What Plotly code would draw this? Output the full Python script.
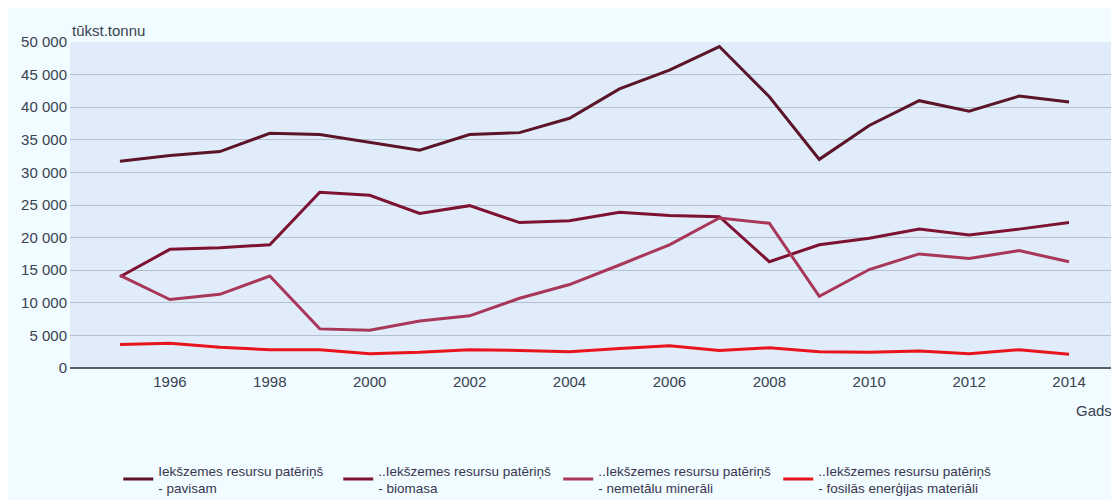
import plotly.graph_objects as go

years = list(range(1995, 2015))
pavisam = [31700, 32600, 33200, 36000, 35800, 34600, 33400, 35800, 36100, 38300,
           42800, 45700, 49300, 41600, 32000, 37200, 41000, 39400, 41700, 40800]
biomasa = [14000, 18200, 18450, 18900, 26950, 26500, 23700, 24900, 22300, 22600,
           23900, 23400, 23200, 16300, 18900, 19900, 21300, 20400, 21300, 22300]
nemetalu = [14200, 10500, 11300, 14100, 6000, 5800, 7200, 8000, 10700, 12800,
            15800, 18900, 23000, 22200, 11000, 15100, 17500, 16800, 18000, 16300]
fosilas = [3600, 3800, 3200, 2800, 2800, 2200, 2400, 2800, 2700, 2500,
           3000, 3400, 2700, 3100, 2500, 2400, 2600, 2200, 2800, 2100]
x_ticks = list(range(1996, 2015, 2))

names = [
    "Iekšzemes resursu patēriņš<br>- pavisam",
    "..Iekšzemes resursu patēriņš<br>- biomasa",
    "..Iekšzemes resursu patēriņš<br>- nemetālu minerāli",
    "..Iekšzemes resursu patēriņš<br>- fosilās enerģijas materiāli",
]
series = [pavisam, biomasa, nemetalu, fosilas]
colors = ["#5c1428", "#7d1233", "#a8375a", "#e8141c"]

fig = go.Figure()
for name, vals, col in zip(names, series, colors):
    fig.add_trace(go.Scatter(x=years, y=vals, name=name, mode="lines",
                             line=dict(color=col, width=3)))

font_family = "Liberation Sans, Arial, sans-serif"
txt_col = "#3a4150"

fig.update_layout(
    width=1111, height=492,
    margin=dict(l=62, r=0, t=34, b=132, autoexpand=False),
    paper_bgcolor="#f0fcff",
    plot_bgcolor="#e0ecfa",
    separators=", ",
    font=dict(family=font_family, size=15, color=txt_col),
    showlegend=True,
    legend=dict(orientation="h", x=0.046, xanchor="left", y=-0.342, yanchor="middle",
                entrywidth=175, entrywidthmode="pixels", tracegroupgap=0,
                font=dict(size=13.5, color="#3a3550"), bgcolor="rgba(0,0,0,0)",
                traceorder="normal"),
    xaxis=dict(range=[1994, 2015], tickmode="array", tickvals=x_ticks,
               ticktext=[str(v) for v in x_ticks],
               showgrid=False, zeroline=False, showline=False,
               ticks="", ticklabelstandoff=3, tickfont=dict(size=15, color=txt_col)),
    yaxis=dict(range=[0, 50000], tickmode="linear", tick0=0, dtick=5000,
               tickformat=",d", showgrid=True, gridcolor="#b4c0d0", gridwidth=1,
               zeroline=True, zerolinecolor="#5a5f66", zerolinewidth=2,
               showline=False, ticks="", ticklabelstandoff=2,
               tickfont=dict(size=15, color=txt_col)),
    annotations=[
        dict(text="tūkst.tonnu", xref="paper", yref="paper", x=0.0, y=1.0,
             xanchor="left", yanchor="bottom", showarrow=False, xshift=0, yshift=1,
             font=dict(size=15, color=txt_col)),
        dict(text="Gads", xref="paper", yref="paper", x=1.0, y=0.0,
             xanchor="right", yanchor="top", showarrow=False, xshift=-5, yshift=-32,
             font=dict(size=15, color=txt_col)),
    ],
)

fig.write_html("out.html", post_script="document.body.style.overflow='hidden';")
